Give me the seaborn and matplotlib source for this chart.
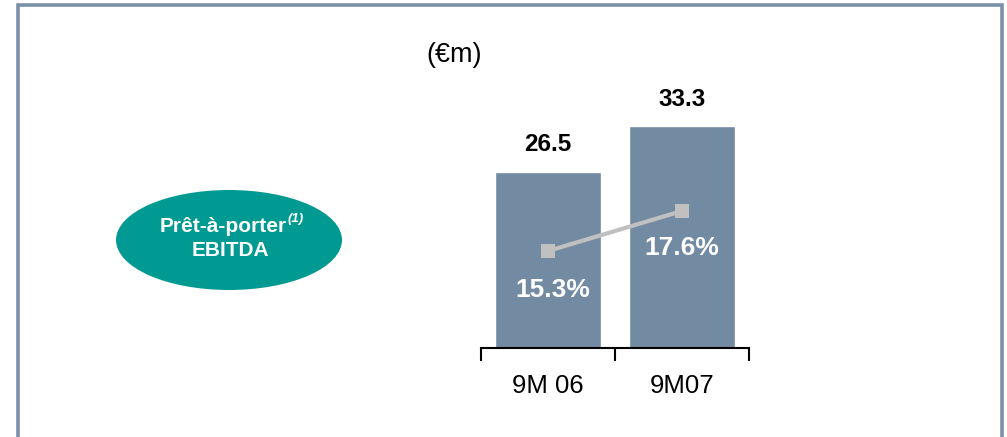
import matplotlib
matplotlib.use("Agg")
import matplotlib.pyplot as plt
from matplotlib.patches import Ellipse, Rectangle
import seaborn as sns
import pandas as pd

# ---- data ----
periods = ["9M 06", "9M07"]
ebitda = [26.5, 33.3]
margin = [15.3, 17.6]
value_labels = ["26.5", "33.3"]
margin_labels = ["15.3%", "17.6%"]
unit_label = "(€m)"

sns.set_theme(style="white")
plt.rcParams["font.family"] = ["Liberation Sans", "DejaVu Sans"]

W, H = 1007, 437
fig = plt.figure(figsize=(W / 100, H / 100), dpi=100)

def fx(px):
    return px / W

def fy(py):
    return 1 - py / H

# frame border
fig.patches.append(Rectangle((fx(18), fy(460)), fx(1002) - fx(18), fy(5) - fy(460),
                             transform=fig.transFigure, fill=False,
                             edgecolor="#7A90A9", linewidth=2.6))

ax = fig.add_axes([fx(481), fy(348), fx(749) - fx(481), fy(100) - fy(348)])
df = pd.DataFrame({"period": periods, "ebitda": ebitda})
sns.barplot(data=df, x="period", y="ebitda", color="#738AA3", saturation=1,
            width=0.79, ax=ax)
ax.set_xlim(-0.5, 1.5)
ax.set_ylim(0, (348 - 100) / 6.66)
ax.set_xlabel("")
ax.set_ylabel("")
ax.set_yticks([])
for s in ["top", "right", "left"]:
    ax.spines[s].set_visible(False)
ax.spines["bottom"].set_color("black")
ax.spines["bottom"].set_linewidth(1.5)
ax.set_xticks([0, 1])
ax.set_xticklabels(periods, fontsize=18.5, color="black")
ax.tick_params(axis="x", which="major", length=0, pad=19)
ax.set_xticks([-0.5, 0.5, 1.5], minor=True)
ax.tick_params(axis="x", which="minor", bottom=True, length=9, width=1.5,
               color="black", direction="out")
ax.patch.set_alpha(0)

for i, lab in enumerate(value_labels):
    ax.annotate(lab, (i, ebitda[i]), xytext=(0, 27), textcoords="offset pixels",
                ha="center", va="center", fontsize=17.5, fontweight="bold",
                color="black", annotation_clip=False)

ax2 = ax.twinx()
sns.lineplot(x=[0, 1], y=margin, ax=ax2, color="#C0C0C0", linewidth=3,
             marker="s", markersize=10, markeredgewidth=0, markerfacecolor="#C0C0C0")
ax2.set_xlim(-0.5, 1.5)
ppu = 40 / 2.3
ax2.set_ylim(15.3 - (348 - 251) / ppu, 15.3 + (251 - 100) / ppu)
ax2.set_yticks([])
ax2.set_ylabel("")
for s in ["top", "right", "left", "bottom"]:
    ax2.spines[s].set_visible(False)

offsets = [(5, -39), (0, -37)]
for i, lab in enumerate(margin_labels):
    ax2.annotate(lab, (i, margin[i]), xytext=offsets[i], textcoords="offset pixels",
                 ha="center", va="center", fontsize=19, fontweight="bold",
                 color="white", annotation_clip=False)

fig.text(fx(454), fy(55), unit_label, ha="center", va="center", fontsize=19.5,
         color="black")

# ellipse label
fig.patches.append(Ellipse((fx(229), fy(240)), fx(226), 100 / H,
                           transform=fig.transFigure, facecolor="#009A93",
                           edgecolor="none"))
fig.text(fx(287), fy(226), "Prêt-à-porter", ha="right", va="center",
         fontsize=15, fontweight="bold", color="white")
fig.text(fx(288), fy(219), "(1)", ha="left", va="center", fontsize=9.5,
         fontweight="bold", fontstyle="italic", color="white")
fig.text(fx(230), fy(251), "EBITDA", ha="center", va="center",
         fontsize=15, fontweight="bold", color="white")

fig.savefig("out.png", dpi=100)
